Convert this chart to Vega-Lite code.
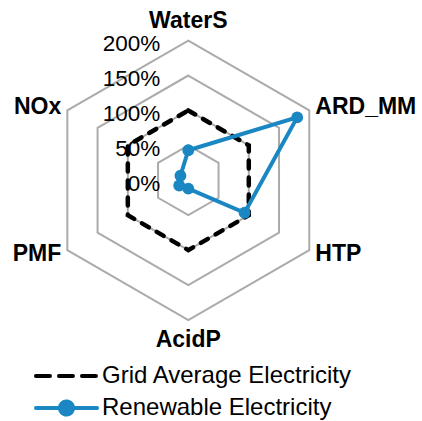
{
  "$schema": "https://vega.github.io/schema/vega-lite/v6.json",
  "width": 422,
  "height": 421,
  "padding": 0,
  "autosize": {"type": "none"},
  "config": {"view": {"stroke": null}, "font": "Liberation Sans"},
  "datasets": {
    "series": [
      {"series": "Grid Average Electricity", "axis": "WaterS", "value": 100},
      {"series": "Grid Average Electricity", "axis": "ARD_MM", "value": 100},
      {"series": "Grid Average Electricity", "axis": "HTP", "value": 100},
      {"series": "Grid Average Electricity", "axis": "AcidP", "value": 100},
      {"series": "Grid Average Electricity", "axis": "PMF", "value": 100},
      {"series": "Grid Average Electricity", "axis": "NOx", "value": 100},
      {"series": "Renewable Electricity", "axis": "WaterS", "value": 43},
      {"series": "Renewable Electricity", "axis": "ARD_MM", "value": 180},
      {"series": "Renewable Electricity", "axis": "HTP", "value": 93},
      {"series": "Renewable Electricity", "axis": "AcidP", "value": 12},
      {"series": "Renewable Electricity", "axis": "PMF", "value": 15},
      {"series": "Renewable Electricity", "axis": "NOx", "value": 13}
    ],
    "grid": [
      {"level": 50, "axis": ["WaterS", "ARD_MM", "HTP", "AcidP", "PMF", "NOx"]},
      {"level": 100, "axis": ["WaterS", "ARD_MM", "HTP", "AcidP", "PMF", "NOx"]},
      {"level": 150, "axis": ["WaterS", "ARD_MM", "HTP", "AcidP", "PMF", "NOx"]},
      {"level": 200, "axis": ["WaterS", "ARD_MM", "HTP", "AcidP", "PMF", "NOx"]}
    ],
    "axes": [
      {"axis": "WaterS"}, {"axis": "ARD_MM"}, {"axis": "HTP"},
      {"axis": "AcidP"}, {"axis": "PMF"}, {"axis": "NOx"}
    ],
    "ticks": [
      {"level": 0}, {"level": 50}, {"level": 100}, {"level": 150}, {"level": 200}
    ]
  },
  "layer": [
    {
      "data": {"name": "grid"},
      "transform": [
        {"flatten": ["axis"]},
        {"calculate": "indexof(['WaterS','ARD_MM','HTP','AcidP','PMF','NOx'], datum.axis)", "as": "idx"},
        {"calculate": "datum.level * sin(datum.idx * PI / 3)", "as": "px"},
        {"calculate": "datum.level * cos(datum.idx * PI / 3)", "as": "py"}
      ],
      "mark": {"type": "line", "interpolate": "linear-closed", "color": "#ababab", "strokeWidth": 2},
      "encoding": {
        "x": {"field": "px", "type": "quantitative", "scale": {"domain": [-269.6, 334.6], "nice": false, "zero": false}, "axis": null},
        "y": {"field": "py", "type": "quantitative", "scale": {"domain": [-344.6, 258.1], "nice": false, "zero": false}, "axis": null},
        "detail": {"field": "level", "type": "nominal"},
        "order": {"field": "idx", "type": "quantitative"}
      }
    },
    {
      "data": {"name": "ticks"},
      "transform": [
        {"calculate": "datum.level + '%'", "as": "label"},
        {"calculate": "0", "as": "px"}
      ],
      "mark": {"type": "text", "align": "right", "baseline": "middle", "dx": -28, "dy": 3.5, "fontSize": 22.5, "color": "#000000"},
      "encoding": {
        "x": {"field": "px", "type": "quantitative", "scale": {"domain": [-269.6, 334.6], "nice": false, "zero": false}, "axis": null},
        "y": {"field": "level", "type": "quantitative", "scale": {"domain": [-344.6, 258.1], "nice": false, "zero": false}, "axis": null},
        "text": {"field": "label", "type": "nominal"}
      }
    },
    {
      "data": {"name": "axes"},
      "transform": [
        {"filter": "datum.axis === 'WaterS' || datum.axis === 'AcidP'"},
        {"calculate": "indexof(['WaterS','ARD_MM','HTP','AcidP','PMF','NOx'], datum.axis)", "as": "idx"},
        {"calculate": "228.5 * sin(datum.idx * PI / 3)", "as": "px"},
        {"calculate": "228.5 * cos(datum.idx * PI / 3)", "as": "py"}
      ],
      "mark": {"type": "text", "align": "center", "baseline": "middle", "fontSize": 23, "fontWeight": "bold", "color": "#000000"},
      "encoding": {
        "x": {"field": "px", "type": "quantitative", "scale": {"domain": [-269.6, 334.6], "nice": false, "zero": false}, "axis": null},
        "y": {"field": "py", "type": "quantitative", "scale": {"domain": [-344.6, 258.1], "nice": false, "zero": false}, "axis": null},
        "text": {"field": "axis", "type": "nominal"}
      }
    },
    {
      "data": {"name": "axes"},
      "transform": [
        {"filter": "datum.axis === 'ARD_MM' || datum.axis === 'HTP'"},
        {"calculate": "indexof(['WaterS','ARD_MM','HTP','AcidP','PMF','NOx'], datum.axis)", "as": "idx"},
        {"calculate": "210 * sin(datum.idx * PI / 3)", "as": "px"},
        {"calculate": "210 * cos(datum.idx * PI / 3)", "as": "py"}
      ],
      "mark": {"type": "text", "align": "left", "baseline": "middle", "fontSize": 23, "fontWeight": "bold", "color": "#000000"},
      "encoding": {
        "x": {"field": "px", "type": "quantitative", "scale": {"domain": [-269.6, 334.6], "nice": false, "zero": false}, "axis": null},
        "y": {"field": "py", "type": "quantitative", "scale": {"domain": [-344.6, 258.1], "nice": false, "zero": false}, "axis": null},
        "text": {"field": "axis", "type": "nominal"}
      }
    },
    {
      "data": {"name": "axes"},
      "transform": [
        {"filter": "datum.axis === 'PMF' || datum.axis === 'NOx'"},
        {"calculate": "indexof(['WaterS','ARD_MM','HTP','AcidP','PMF','NOx'], datum.axis)", "as": "idx"},
        {"calculate": "210 * sin(datum.idx * PI / 3)", "as": "px"},
        {"calculate": "210 * cos(datum.idx * PI / 3)", "as": "py"}
      ],
      "mark": {"type": "text", "align": "right", "baseline": "middle", "fontSize": 23, "fontWeight": "bold", "color": "#000000"},
      "encoding": {
        "x": {"field": "px", "type": "quantitative", "scale": {"domain": [-269.6, 334.6], "nice": false, "zero": false}, "axis": null},
        "y": {"field": "py", "type": "quantitative", "scale": {"domain": [-344.6, 258.1], "nice": false, "zero": false}, "axis": null},
        "text": {"field": "axis", "type": "nominal"}
      }
    },
    {
      "data": {"name": "series"},
      "transform": [
        {"filter": "datum.series === 'Grid Average Electricity'"},
        {"calculate": "indexof(['WaterS','ARD_MM','HTP','AcidP','PMF','NOx'], datum.axis)", "as": "idx"},
        {"calculate": "datum.value * sin(datum.idx * PI / 3)", "as": "px"},
        {"calculate": "datum.value * cos(datum.idx * PI / 3)", "as": "py"}
      ],
      "mark": {"type": "line", "interpolate": "linear-closed", "strokeWidth": 4.5, "strokeDash": [8, 9], "strokeCap": "round"},
      "encoding": {
        "x": {"field": "px", "type": "quantitative", "scale": {"domain": [-269.6, 334.6], "nice": false, "zero": false}, "axis": null},
        "y": {"field": "py", "type": "quantitative", "scale": {"domain": [-344.6, 258.1], "nice": false, "zero": false}, "axis": null},
        "order": {"field": "idx", "type": "quantitative"},
        "color": {
          "field": "series", "type": "nominal",
          "scale": {"domain": ["Grid Average Electricity", "Renewable Electricity"], "range": ["#000000", "#1a87c3"]},
          "legend": {
            "title": null, "orient": "none", "legendX": 54.5, "legendY": 364, "padding": 0,
            "labelFontSize": 24, "labelFont": "Liberation Sans", "labelColor": "#000000", "labelOffset": 23.5, "labelLimit": 400,
            "symbolSize": 169, "rowPadding": 5, "symbolStrokeWidth": 4,
            "encode": {"symbols": {"update": {
              "shape": {"signal": "datum.value === 'Renewable Electricity' ? 'M-4.7,0H4.7M1,0A1,1,0,1,1,-1,0A1,1,0,1,1,1,0Z' : 'M-4.7,0H4.7'"},
              "fill": {"signal": "datum.value === 'Renewable Electricity' ? '#1a87c3' : 'transparent'"},
              "strokeDash": {"signal": "datum.value === 'Renewable Electricity' ? [1,0] : [14,9]"},
              "strokeCap": {"value": "round"},
              "strokeWidth": {"value": 4},
              "opacity": {"value": 1}
            }}}
          }
        }
      }
    },
    {
      "data": {"name": "series"},
      "transform": [
        {"filter": "datum.series === 'Renewable Electricity'"},
        {"calculate": "indexof(['WaterS','ARD_MM','HTP','AcidP','PMF','NOx'], datum.axis)", "as": "idx"},
        {"calculate": "datum.value * sin(datum.idx * PI / 3)", "as": "px"},
        {"calculate": "datum.value * cos(datum.idx * PI / 3)", "as": "py"}
      ],
      "mark": {"type": "line", "interpolate": "linear-closed", "strokeWidth": 4, "point": {"filled": true, "size": 140, "opacity": 1}},
      "encoding": {
        "x": {"field": "px", "type": "quantitative", "scale": {"domain": [-269.6, 334.6], "nice": false, "zero": false}, "axis": null},
        "y": {"field": "py", "type": "quantitative", "scale": {"domain": [-344.6, 258.1], "nice": false, "zero": false}, "axis": null},
        "order": {"field": "idx", "type": "quantitative"},
        "color": {
          "field": "series", "type": "nominal",
          "scale": {"domain": ["Grid Average Electricity", "Renewable Electricity"], "range": ["#000000", "#1a87c3"]},
          "legend": {
            "title": null, "orient": "none", "legendX": 54.5, "legendY": 364, "padding": 0,
            "labelFontSize": 24, "labelFont": "Liberation Sans", "labelColor": "#000000", "labelOffset": 23.5, "labelLimit": 400,
            "symbolSize": 169, "rowPadding": 5, "symbolStrokeWidth": 4,
            "encode": {"symbols": {"update": {
              "shape": {"signal": "datum.value === 'Renewable Electricity' ? 'M-4.7,0H4.7M1,0A1,1,0,1,1,-1,0A1,1,0,1,1,1,0Z' : 'M-4.7,0H4.7'"},
              "fill": {"signal": "datum.value === 'Renewable Electricity' ? '#1a87c3' : 'transparent'"},
              "strokeDash": {"signal": "datum.value === 'Renewable Electricity' ? [1,0] : [14,9]"},
              "strokeCap": {"value": "round"},
              "strokeWidth": {"value": 4},
              "opacity": {"value": 1}
            }}}
          }
        }
      }
    }
  ]
}
